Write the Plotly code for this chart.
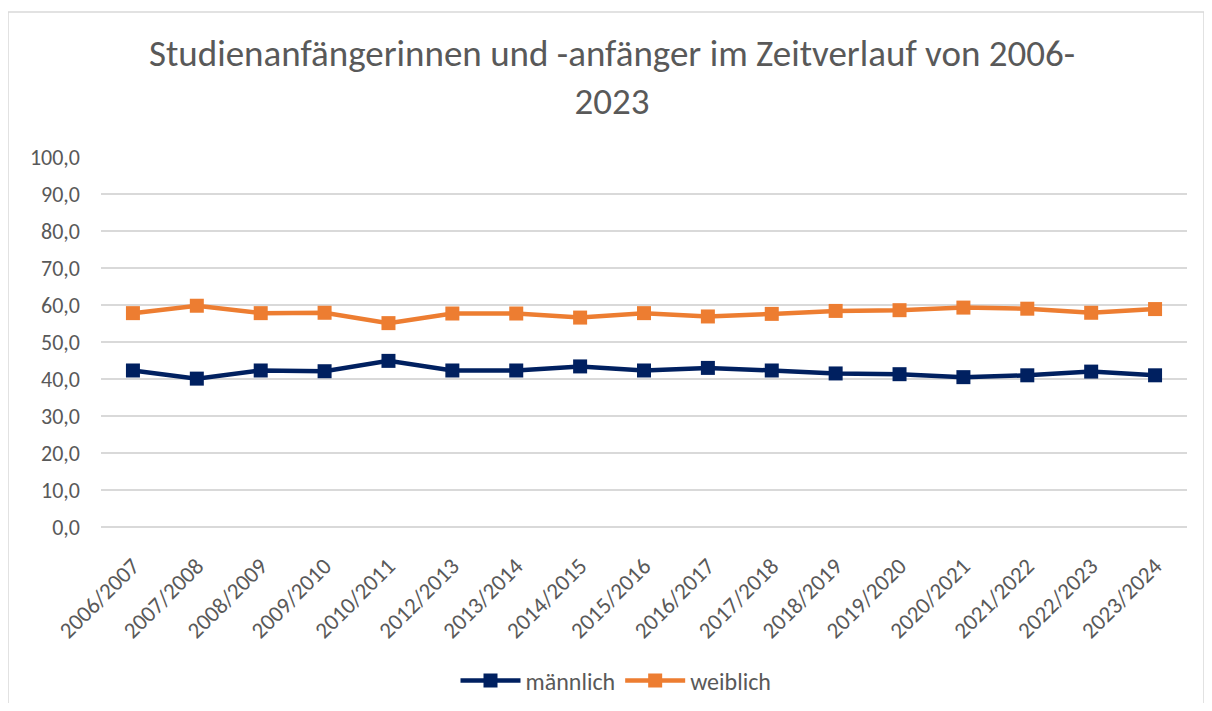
import plotly.graph_objects as go

categories = ["2006/2007", "2007/2008", "2008/2009", "2009/2010", "2010/2011",
              "2012/2013", "2013/2014", "2014/2015", "2015/2016", "2016/2017",
              "2017/2018", "2018/2019", "2019/2020", "2020/2021", "2021/2022",
              "2022/2023", "2023/2024"]
maennlich = [42.3, 40.1, 42.3, 42.1, 44.9, 42.3, 42.3, 43.4, 42.3, 43.0,
             42.3, 41.5, 41.3, 40.5, 41.0, 42.0, 41.0]
weiblich = [57.8, 59.8, 57.8, 57.9, 55.1, 57.7, 57.7, 56.6, 57.8, 56.9,
            57.6, 58.4, 58.6, 59.3, 59.0, 57.9, 58.9]

title_text = "Studienanfängerinnen und -anfänger im Zeitverlauf von 2006-<br>2023"
font_family = "Carlito, Calibri, Lato, sans-serif"
grey = "#595959"

fig = go.Figure()
fig.add_trace(go.Scatter(x=categories, y=maennlich, name="männlich", mode="lines+markers",
                         line=dict(color="#002060", width=4.5),
                         marker=dict(symbol="square", size=14, color="#002060")))
fig.add_trace(go.Scatter(x=categories, y=weiblich, name="weiblich", mode="lines+markers",
                         line=dict(color="#ED7D31", width=4.5),
                         marker=dict(symbol="square", size=14, color="#ED7D31")))

# page body has 8px offset
OFF = 8
W, H = 1196, 695
L, T = 101 - OFF, 157 - OFF
R = (W + OFF) - 1187
B = (H + OFF) - 527
pw, ph = W - L - R, H - T - B

def px(x):
    return (x - OFF - L) / pw

def py(y):
    return (H - B - (y - OFF)) / ph

fig.update_layout(
    width=W, height=H,
    margin=dict(l=L, r=R, t=T, b=B, autoexpand=False),
    paper_bgcolor="white", plot_bgcolor="white",
    separators=",.",
    font=dict(family=font_family, color=grey, size=22),
    title=dict(text=title_text, x=(612 - OFF) / W, xanchor="center",
               y=1 - (66 - OFF) / H, yanchor="middle",
               font=dict(size=37, color=grey, family=font_family)),
    xaxis=dict(type="category", tickangle=-45, showgrid=False, showline=False,
               ticks="", tickfont=dict(size=23, color=grey), range=[-0.5, 16.5],
               ticklabelstandoff=20, automargin=False),
    yaxis=dict(range=[0, 100], dtick=10, tickformat=".1f", showgrid=True,
               gridcolor="#d9d9d9", gridwidth=1.5, zeroline=True, zerolinecolor="#d9d9d9",
               zerolinewidth=1.5, ticks="", tickfont=dict(size=22, color=grey),
               ticklabelstandoff=20, automargin=False),
    legend=dict(orientation="h", xref="container", x=(616 - OFF) / W, xanchor="center",
                yref="container", y=1 - (681 - OFF) / H, yanchor="middle",
                font=dict(size=24, color=grey), itemwidth=60),
    shapes=[dict(type="rect", xref="paper", yref="paper",
                 x0=px(8), x1=px(1204), y0=py(710), y1=py(12),
                 line=dict(color="#d9d9d9", width=1.5), layer="below")],
)

fig.write_html("out.html")
